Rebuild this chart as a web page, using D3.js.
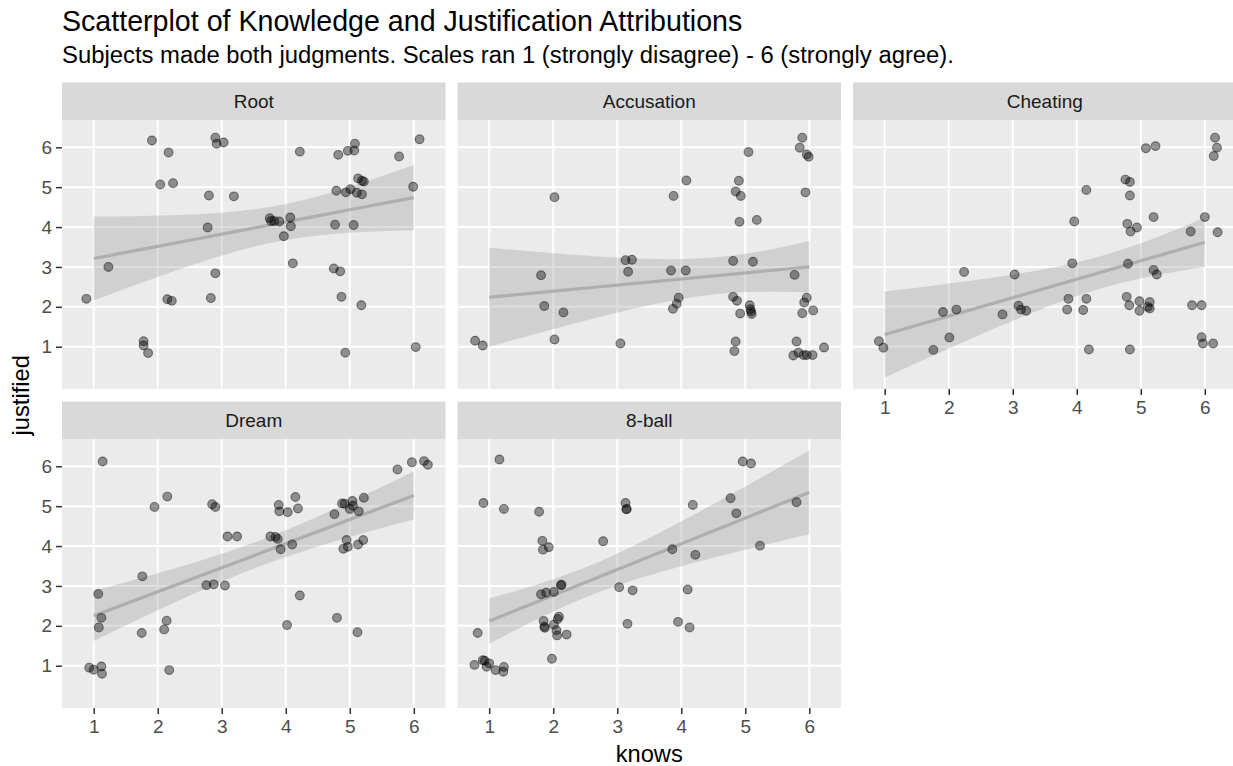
<!DOCTYPE html>
<html>
<head>
<meta charset="utf-8">
<script src="https://cdn.jsdelivr.net/npm/d3@7"></script>
<style>
  body { margin: 0; background: #fff; }
  text { font-family: "Liberation Sans", Arial, sans-serif; }
</style>
</head>
<body>
<svg id="chart" width="1233" height="766"></svg>
<script>
// jittered positions as plotted: [knows, justified]
const rootPoints = [
  [0.885, 2.20], [1.23, 3.00], [1.78, 1.14], [1.78, 1.03], [1.85, 0.84], [1.91, 6.17],
  [2.04, 5.07], [2.17, 5.87], [2.24, 5.10], [2.15, 2.19], [2.22, 2.15], [2.78, 3.99],
  [2.80, 4.79], [2.83, 2.22], [2.90, 2.84], [2.90, 6.24], [2.92, 6.09], [3.03, 6.12],
  [3.19, 4.77], [3.75, 4.22], [3.77, 4.15], [3.82, 4.15], [3.90, 4.14], [3.97, 3.77],
  [4.07, 4.24], [4.08, 4.02], [4.11, 3.09], [4.22, 5.89], [4.75, 2.96], [4.77, 4.06],
  [4.79, 4.91], [4.82, 5.81], [4.85, 2.89], [4.87, 2.25], [4.93, 0.85], [4.94, 4.87],
  [4.97, 5.91], [5.01, 4.95], [5.06, 4.05], [5.07, 5.92], [5.08, 6.09], [5.11, 4.86],
  [5.13, 5.22], [5.18, 2.04], [5.19, 4.82], [5.19, 5.16], [5.22, 5.14], [5.77, 5.77],
  [5.99, 5.01], [6.03, 0.99], [6.09, 6.20]
];
const accusationPoints = [
  [0.78, 1.15], [0.90, 1.03], [1.81, 2.79], [1.86, 2.02], [2.02, 4.75], [2.02, 1.18],
  [2.16, 1.86], [3.05, 1.08], [3.13, 3.17], [3.23, 3.18], [3.17, 2.88], [3.84, 2.91],
  [3.88, 4.78], [3.87, 1.95], [3.93, 2.08], [3.96, 2.23], [4.07, 2.91], [4.08, 5.17],
  [4.81, 3.15], [4.81, 2.25], [4.87, 2.15], [4.85, 4.89], [4.90, 5.16], [4.93, 4.78],
  [4.91, 4.13], [4.85, 1.13], [4.83, 0.89], [4.92, 1.83], [5.05, 5.88], [5.07, 2.04],
  [5.08, 1.94], [5.09, 1.88], [5.10, 1.82], [5.12, 3.13], [5.18, 4.18], [5.77, 2.80],
  [5.80, 1.13], [5.75, 0.78], [5.83, 0.85], [5.91, 0.79], [5.96, 0.79], [6.05, 0.79],
  [5.89, 6.24], [5.85, 5.99], [5.96, 5.82], [5.99, 5.76], [5.94, 4.87], [5.96, 2.23],
  [5.92, 2.11], [5.89, 1.84], [6.06, 1.91], [6.23, 0.98]
];
const cheatingPoints = [
  [0.91, 1.14], [0.98, 0.975], [1.76, 0.92], [1.91, 1.87], [2.01, 1.23], [2.12, 1.93],
  [2.24, 2.875], [2.84, 1.81], [3.03, 2.81], [3.09, 2.03], [3.13, 1.93], [3.21, 1.90],
  [3.85, 1.93], [3.87, 2.20], [3.93, 3.09], [3.96, 4.14], [4.10, 1.92], [4.15, 2.20],
  [4.15, 4.93], [4.19, 0.93], [4.76, 5.19], [4.83, 5.13], [4.83, 4.79], [4.79, 4.08],
  [4.84, 3.89], [4.94, 3.99], [4.80, 3.08], [4.78, 2.25], [4.82, 2.04], [4.83, 0.93],
  [4.98, 2.14], [4.98, 1.90], [5.08, 5.975], [5.23, 6.03], [5.20, 4.25], [5.20, 2.925],
  [5.25, 2.81], [5.14, 2.12], [5.14, 1.96], [5.11, 2.00], [5.78, 3.89], [5.80, 2.04],
  [5.95, 2.04], [6.00, 4.25], [5.95, 1.24], [5.97, 1.08], [6.13, 1.08], [6.14, 5.78],
  [6.16, 6.24], [6.19, 5.99], [6.20, 3.87]
];
const dreamPoints = [
  [0.93, 0.95], [1.00, 0.90], [1.12, 0.98], [1.13, 0.80], [1.08, 1.96], [1.12, 2.20],
  [1.07, 2.80], [1.14, 6.12], [1.75, 1.82], [1.76, 3.24], [1.95, 4.98], [2.10, 1.91],
  [2.14, 2.13], [2.15, 5.24], [2.18, 0.89], [2.76, 3.02], [2.875, 3.04], [3.05, 3.01],
  [2.85, 5.05], [2.90, 4.98], [3.09, 4.24], [3.24, 4.24], [3.76, 4.24], [3.84, 4.23],
  [3.875, 4.18], [3.92, 3.92], [3.89, 5.03], [3.90, 4.87], [4.03, 4.85], [4.02, 2.02],
  [4.10, 4.04], [4.15, 5.23], [4.19, 4.94], [4.22, 2.76], [4.76, 4.80], [4.80, 2.20],
  [4.88, 5.07], [4.92, 5.06], [4.90, 3.93], [4.95, 4.15], [4.97, 3.98], [5.00, 4.93],
  [5.04, 5.13], [5.05, 5.01], [5.14, 4.87], [5.13, 4.04], [5.21, 4.15], [5.22, 5.21],
  [5.12, 1.84], [5.745, 5.92], [5.97, 6.10], [6.16, 6.13], [6.22, 6.04]
];
const eightBallPoints = [
  [0.77, 1.02], [0.82, 1.82], [0.90, 1.14], [0.91, 5.08], [0.93, 1.125], [0.96, 0.975],
  [1.00, 1.06], [1.10, 0.89], [1.16, 6.17], [1.22, 0.85], [1.23, 0.97], [1.23, 4.93],
  [1.78, 4.86], [1.83, 4.13], [1.84, 3.91], [1.93, 3.97], [1.81, 2.79], [1.89, 2.83],
  [2.01, 2.85], [2.13, 3.03], [2.12, 3.02], [1.85, 2.12], [1.86, 1.98], [1.87, 1.95],
  [2.01, 2.03], [2.05, 1.89], [2.06, 1.76], [2.07, 2.17], [2.09, 2.23], [2.21, 1.78],
  [1.98, 1.175], [2.78, 4.12], [3.03, 2.97], [3.24, 2.89], [3.13, 5.08], [3.14, 4.92],
  [3.15, 4.93], [3.16, 2.05], [3.86, 3.92], [3.95, 2.10], [4.10, 2.91], [4.13, 1.96],
  [4.18, 5.03], [4.22, 3.78], [4.77, 5.20], [4.86, 4.82], [4.96, 6.12], [5.09, 6.07],
  [5.23, 4.01], [5.80, 5.10]
];

const facets = ["Root", "Accusation", "Cheating", "Dream", "8-ball"];
const facetPoints = [rootPoints, accusationPoints, cheatingPoints, dreamPoints, eightBallPoints];
const tickValues = [1, 2, 3, 4, 5, 6];

const title = "Scatterplot of Knowledge and Justification Attributions";
const subtitle = "Subjects made both judgments. Scales ran 1 (strongly disagree) - 6 (strongly agree).";

const svg = d3.select("#chart");

let panelLeft = 62, panelW = 383.5, gapX = 12;
let stripTop = 82.5, stripH = 37.5, panelH = 269, gapY = 12.5;

let x = d3.scaleLinear().domain([0.505, 6.495]).range([0, panelW]);
let y = d3.scaleLinear().domain([-0.06, 6.684]).range([panelH, 0]);

// t quantile (0.975) approximation
function tQuant(df) {
  let z = 1.959964;
  return z + (z ** 3 + z) / (4 * df) + (5 * z ** 5 + 16 * z ** 3 + 3 * z) / (96 * df * df);
}

// lm fit on the unjittered (integer) responses
function fitLine(points) {
  let xs = points.map(p => Math.round(p[0]));
  let ys = points.map(p => Math.round(p[1]));
  let n = xs.length, mx = d3.mean(xs), my = d3.mean(ys);
  let sxx = d3.sum(xs, v => (v - mx) ** 2);
  let sxy = d3.sum(xs, (v, i) => (v - mx) * (ys[i] - my));
  let b = sxy / sxx, a = my - b * mx;
  let s = Math.sqrt(d3.sum(xs, (v, i) => (ys[i] - a - b * v) ** 2) / (n - 2));
  let t = tQuant(n - 2);
  let x0 = d3.min(xs), x1 = d3.max(xs);
  return d3.range(81).map(k => {
    let xv = x0 + (x1 - x0) * k / 80;
    let fit = a + b * xv;
    let se = s * Math.sqrt(1 / n + (xv - mx) ** 2 / sxx);
    return { x: xv, fit: fit, lo: fit - t * se, hi: fit + t * se };
  });
}

// Titles
svg.append("text")
  .attr("x", panelLeft)
  .attr("y", 30.5)
  .attr("font-size", "28.6px")
  .attr("fill", "#000")
  .text(title);

svg.append("text")
  .attr("x", panelLeft)
  .attr("y", 63)
  .attr("font-size", "23.85px")
  .attr("fill", "#000")
  .text(subtitle);

facets.forEach((name, i) => {
  let col = i % 3, row = Math.floor(i / 3);
  let left = panelLeft + col * (panelW + gapX);
  let top = stripTop + row * (stripH + panelH + gapY);

  // strip
  svg.append("rect")
    .attr("x", left).attr("y", top)
    .attr("width", panelW).attr("height", stripH)
    .attr("fill", "#d9d9d9");
  svg.append("text")
    .attr("x", left + panelW / 2)
    .attr("y", top + stripH / 2 + 6.8)
    .attr("text-anchor", "middle")
    .attr("font-size", "19px")
    .attr("fill", "#1a1a1a")
    .text(name);

  let g = svg.append("g")
    .attr("transform", "translate(" + left + ", " + (top + stripH) + ")");

  g.append("rect")
    .attr("width", panelW).attr("height", panelH)
    .attr("fill", "#ebebeb");

  // grid
  g.selectAll(".gx").data(tickValues).enter().append("line")
    .attr("x1", d => x(d)).attr("x2", d => x(d))
    .attr("y1", 0).attr("y2", panelH)
    .attr("stroke", "#fff").attr("stroke-width", 2);
  g.selectAll(".gy").data(tickValues).enter().append("line")
    .attr("y1", d => y(d)).attr("y2", d => y(d))
    .attr("x1", 0).attr("x2", panelW)
    .attr("stroke", "#fff").attr("stroke-width", 2);

  // smooth
  let fit = fitLine(facetPoints[i]);
  g.append("path")
    .datum(fit)
    .attr("fill", "#999")
    .attr("fill-opacity", 0.32)
    .attr("d", d3.area().x(d => x(d.x)).y0(d => y(d.lo)).y1(d => y(d.hi)));
  g.append("path")
    .datum(fit)
    .attr("fill", "none")
    .attr("stroke", "#a8a8a8")
    .attr("stroke-opacity", 0.85)
    .attr("stroke-width", 3.2)
    .attr("d", d3.line().x(d => x(d.x)).y(d => y(d.fit)));

  // points
  g.selectAll("circle").data(facetPoints[i]).enter().append("circle")
    .attr("cx", d => x(d[0]))
    .attr("cy", d => y(d[1]))
    .attr("r", 4.4)
    .attr("fill", "#000").attr("fill-opacity", 0.4)
    .attr("stroke", "#000").attr("stroke-opacity", 0.45)
    .attr("stroke-width", 1.1);

  // x axis where no panel below
  if (row === 1 || col === 2) {
    let ax = g.append("g")
      .attr("transform", "translate(0, " + panelH + ")")
      .call(d3.axisBottom(x).tickValues(tickValues).tickSize(6).tickPadding(6).tickFormat(d3.format("d")));
    ax.select(".domain").remove();
    ax.selectAll("line").attr("stroke", "#333").attr("stroke-width", 1.5);
    ax.selectAll("text").attr("font-size", "19px").attr("fill", "#4d4d4d")
      .attr("font-family", "Liberation Sans, Arial, sans-serif");
  }
  if (col === 0) {
    let ay = g.append("g")
      .call(d3.axisLeft(y).tickValues(tickValues).tickSize(6).tickPadding(4).tickFormat(d3.format("d")));
    ay.select(".domain").remove();
    ay.selectAll("line").attr("stroke", "#333").attr("stroke-width", 1.5);
    ay.selectAll("text").attr("font-size", "19px").attr("fill", "#4d4d4d")
      .attr("font-family", "Liberation Sans, Arial, sans-serif");
  }
});

// axis titles
svg.append("text")
  .attr("x", panelLeft + (3 * panelW + 2 * gapX) / 2)
  .attr("y", 761.5)
  .attr("text-anchor", "middle")
  .attr("font-size", "23.7px")
  .text("knows");

svg.append("text")
  .attr("transform", "translate(28.5, " + (stripTop + (2 * (stripH + panelH) + gapY) / 2) + ") rotate(-90)")
  .attr("text-anchor", "middle")
  .attr("font-size", "23.7px")
  .text("justified");
</script>
</body>
</html>
